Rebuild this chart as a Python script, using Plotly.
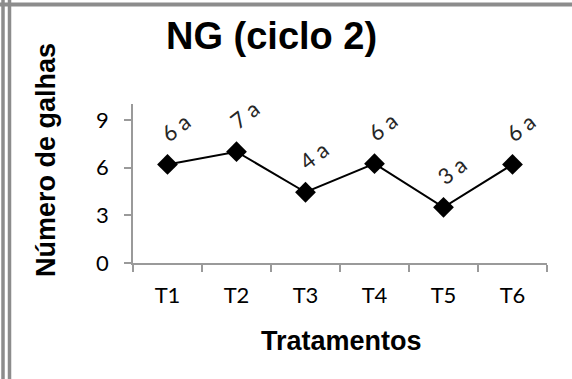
import plotly.graph_objects as go

categories = ["T1", "T2", "T3", "T4", "T5", "T6"]
values = [6.2, 7.0, 4.45, 6.25, 3.5, 6.2]
labels = ["6 a", "7 a", "4 a", "6 a", "3 a", "6 a"]
y_ticks = [0, 3, 6, 9]

W, H = 572, 379
ML, MR, MT, MB = 133, 25, 104, 116
PW, PH = W - ML - MR, H - MT - MB

def px(x):
    return (x - ML) / PW

def py(y):
    return (H - MB - y) / PH

fig = go.Figure()
fig.add_trace(go.Scatter(
    x=categories, y=values, mode="lines+markers",
    line=dict(color="black", width=2),
    marker=dict(symbol="diamond", size=16, color="black"),
    showlegend=False, hoverinfo="skip",
))

for c, v, t in zip(categories, values, labels):
    fig.add_annotation(x=c, y=v, text=t, showarrow=False, textangle=-38,
                       xshift=8, yshift=37, xanchor="center", yanchor="middle",
                       font=dict(family="Lato", size=22, color="#262626"))

gray = "#9a9a9a"
fig.update_xaxes(type="category", range=[-0.5, 5.5], showline=True, linecolor=gray,
                 linewidth=1.5, ticks="outside", ticklen=7, tickcolor=gray, tickwidth=1.5,
                 tickson="boundaries", showgrid=False, zeroline=False,
                 tickfont=dict(family="Lato", size=22, color="black"),
                 ticklabelstandoff=12)
fig.update_yaxes(range=[0, 10], tickvals=y_ticks, showline=True, linecolor=gray,
                 linewidth=1.5, ticks="outside", ticklen=7, tickcolor=gray, tickwidth=1.5,
                 showgrid=False, zeroline=False,
                 tickfont=dict(family="Lato", size=22, color="black"),
                 ticklabelstandoff=11)

# titles
fig.add_annotation(xref="paper", yref="paper", x=px(271), y=py(36), text="<b>NG (ciclo 2)</b>",
                   showarrow=False, xanchor="center", yanchor="middle",
                   font=dict(family="Liberation Sans, Arial", size=38, color="black"))
fig.add_annotation(xref="paper", yref="paper", x=px(46), y=py(160), text="<b>Número de galhas</b>",
                   showarrow=False, textangle=-90, xanchor="center", yanchor="middle",
                   font=dict(family="Liberation Sans, Arial", size=27, color="black"))
fig.add_annotation(xref="paper", yref="paper", x=px(341), y=py(341), text="<b>Tratamentos</b>",
                   showarrow=False, xanchor="center", yanchor="middle",
                   font=dict(family="Liberation Sans, Arial", size=27, color="black"))

# frame lines (double border at left, band at top)
for xx in (3, 9.5):
    fig.add_shape(type="line", xref="paper", yref="paper", x0=px(xx), x1=px(xx),
                  y0=py(0), y1=py(H), line=dict(color="#8c8c8c", width=3.5))
fig.add_shape(type="line", xref="paper", yref="paper", x0=px(0), x1=px(W),
              y0=py(4.5), y1=py(4.5), line=dict(color="#8c8c8c", width=4))

fig.update_layout(width=W, height=H, margin=dict(l=ML, r=MR, t=MT, b=MB),
                  paper_bgcolor="white", plot_bgcolor="white")
fig.write_html("out.html")
